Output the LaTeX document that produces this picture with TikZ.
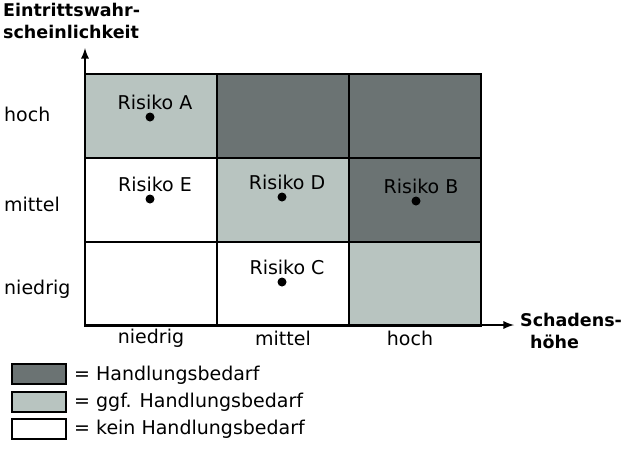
\documentclass[tikz,border=0pt]{standalone}
\usepackage{fontspec}
\setmainfont{DejaVu Sans}
\begin{document}
\begin{tikzpicture}[x=1pt,y=-1pt,
  cell/.style={draw=black,line width=2.6pt},
  dk/.style={fill=dkc},lt/.style={fill=ltc},wt/.style={fill=white},
  lbl/.style={font=\fontsize{19}{22}\selectfont,inner sep=0pt},
  ax/.style={font=\bfseries\fontsize{17.5}{22}\selectfont,inner sep=0pt,align=left},
  dot/.style={circle,fill=black,inner sep=0pt,minimum size=9pt}]
\definecolor{dkc}{HTML}{6B7373}
\definecolor{ltc}{HTML}{B8C4C0}
\useasboundingbox (0,0) rectangle (639,448);
% grid
\foreach \c/\r/\s in {0/0/lt,1/0/dk,2/0/dk,0/1/wt,1/1/lt,2/1/dk,0/2/wt,1/2/wt,2/2/lt}{
  \path[cell,\s] ({85+132*\c},{74+84*\r}) rectangle ({217+132*\c},{158+84*\r});
}
% axes
\coordinate (o) at (85,325);
\coordinate (ytop) at (85,48);
\coordinate (xend) at (514,325);
\draw[line width=2.6pt,-latex] (o) -- (ytop);
\draw[line width=2.6pt,-latex] (o) -- (xend);
\node[ax,anchor=north west] (yl) at (3,3) {Eintrittswahr-\\scheinlichkeit};
\node[ax,anchor=west] (xl) at (520,331) {Schadens-\\\hspace*{10pt}höhe};
% row/col labels
\node[lbl,anchor=west] (rh) at (4,114) {hoch};
\node[lbl,anchor=west] (rm) at (4,204) {mittel};
\node[lbl,anchor=west] (rn) at (4,289) {niedrig};
\node[lbl] (cn) at (151,338) {niedrig};
\node[lbl] (cm) at (283,338) {mittel};
\node[lbl] (ch) at (410,338) {hoch};
% risks
\foreach \n/\x/\y/\t in {A/150/117/Risiko A,E/150/199/Risiko E,D/282/197/Risiko D,B/416/201/Risiko B,C/282/282/Risiko C}{
  \node[dot] (d\n) at (\x,\y) {};
  \node[lbl] (t\n) at (\x+5,\y-15) {\t};
}
% legend
\path[cell,dk] (12,364) rectangle (66,384);
\path[cell,lt] (12,392) rectangle (66,412);
\path[cell,wt] (12,419) rectangle (66,439);
\node[lbl,anchor=west] (l1) at (74,375) {= Handlungsbedarf};
\node[lbl,anchor=west] (l2) at (74,402) {= ggf. Handlungsbedarf};
\node[lbl,anchor=west] (l3) at (74,429) {= kein Handlungsbedarf};
\end{tikzpicture}
\end{document}
